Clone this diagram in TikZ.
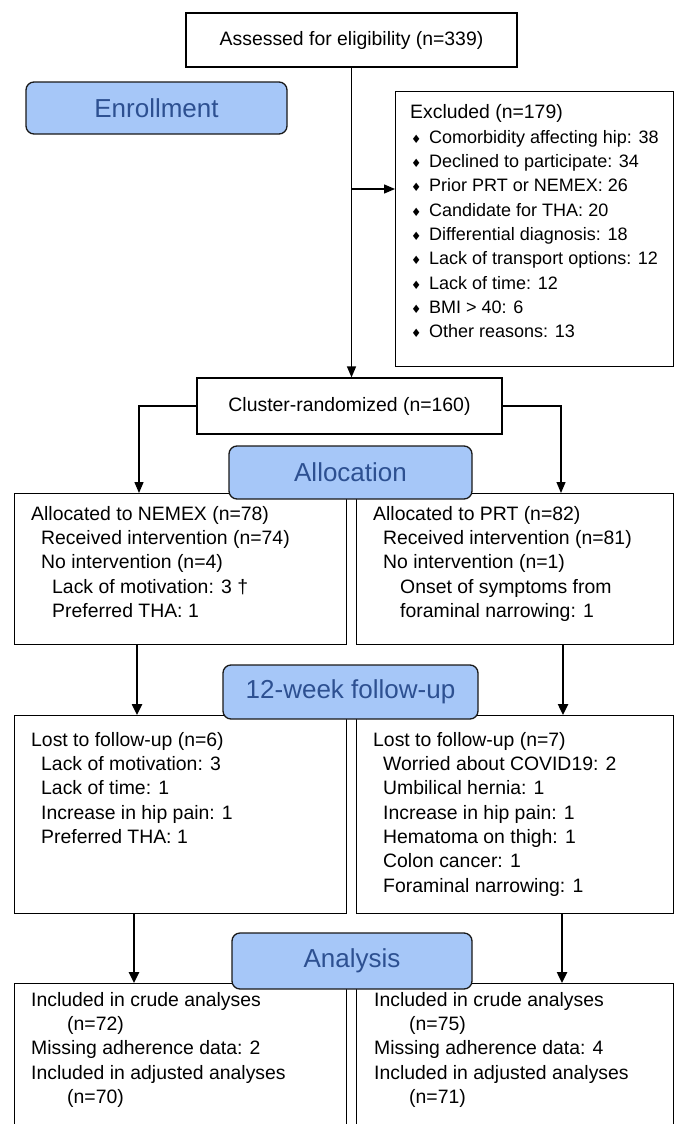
\documentclass[tikz,border=0pt]{standalone}
\usepackage{fontspec}
\setmainfont{Liberation Sans}
\newfontfamily\dejavu{DejaVu Sans}
\usetikzlibrary{arrows.meta}
\definecolor{phasefill}{RGB}{166,199,248}
\definecolor{phasetext}{RGB}{45,80,145}
\newcommand\blt{\makebox[18pt][l]{\dejavu\fontsize{11.5}{11.5}\selectfont ♦}}
\begin{document}
\begin{tikzpicture}[x=1pt,y=-1pt,
  box/.style={draw=black, line width=1.2pt, inner sep=0pt, fill=white},
  phase/.style={draw=black!90, line width=1.3pt, rounded corners=8pt, fill=phasefill, text=phasetext, font=\fontsize{26}{30}\selectfont, inner sep=0pt},
  maintxt/.style={font=\fontsize{19.4}{24.3}\selectfont, align=left, inner sep=0pt, anchor=north west},
  listtxt/.style={font=\fontsize{18}{24.3}\selectfont, align=left, inner sep=0pt, anchor=north west},
  thinarrow/.style={line width=1.3pt, -{Triangle[width=9pt,length=11pt]}},
  thickarrow/.style={line width=2.4pt, -{Triangle[width=10pt,length=11pt]}},
]
\useasboundingbox (0,0) rectangle (676,1124);
\clip (0,0) rectangle (676,1124);

% boxes
\node[box, minimum width=331pt, minimum height=54pt, font=\fontsize{19.4}{24}\selectfont] (assess) at (351.5,40) {Assessed for eligibility (n=339)};
\node[box, minimum width=278pt, minimum height=275pt, anchor=north west] (excl) at (395,91) {};
\node[box, minimum width=305pt, minimum height=56pt, font=\fontsize{19.4}{24}\selectfont] (clust) at (349.5,406) {Cluster-randomized (n=160)};
\node[box, minimum width=332pt, minimum height=151pt, anchor=north west] (nemex) at (14,493) {};
\node[box, minimum width=317pt, minimum height=151pt, anchor=north west] (prt) at (356,493) {};
\node[box, minimum width=332pt, minimum height=198pt, anchor=north west] (lostL) at (14,715) {};
\node[box, minimum width=317pt, minimum height=198pt, anchor=north west] (lostR) at (356,715) {};
\node[box, minimum width=332pt, minimum height=170pt, anchor=north west] (anL) at (14,983) {};
\node[box, minimum width=317pt, minimum height=170pt, anchor=north west] (anR) at (356,983) {};

% texts
\node[maintxt] (exclhead) at (410,104) {Excluded (n=179)};
\node[listtxt] (excllist) at (411,130) {\blt Comorbidity affecting hip: 38\\
\blt Declined to participate: 34\\
\blt Prior PRT or NEMEX: 26\\
\blt Candidate for THA: 20\\
\blt Differential diagnosis: 18\\
\blt Lack of transport options: 12\\
\blt Lack of time: 12\\
\blt BMI > 40: 6\\
\blt Other reasons: 13};

\node[maintxt] (nemextxt) at (31,506) {Allocated to NEMEX (n=78)\\
\hspace*{10pt}Received intervention (n=74)\\
\hspace*{10pt}No intervention (n=4)\\
\hspace*{21pt}Lack of motivation: 3 †\\
\hspace*{21pt}Preferred THA: 1};
\node[maintxt] (prttxt) at (373,506) {Allocated to PRT (n=82)\\
\hspace*{10pt}Received intervention (n=81)\\
\hspace*{10pt}No intervention (n=1)\\
\hspace*{27pt}Onset of symptoms from\\
\hspace*{27pt}foraminal narrowing: 1};

\node[maintxt] (lostLtxt) at (31,732) {Lost to follow-up (n=6)\\
\hspace*{10pt}Lack of motivation: 3\\
\hspace*{10pt}Lack of time: 1\\
\hspace*{10pt}Increase in hip pain: 1\\
\hspace*{10pt}Preferred THA: 1};
\node[maintxt] (lostRtxt) at (373,732) {Lost to follow-up (n=7)\\
\hspace*{10pt}Worried about COVID19: 2\\
\hspace*{10pt}Umbilical hernia: 1\\
\hspace*{10pt}Increase in hip pain: 1\\
\hspace*{10pt}Hematoma on thigh: 1\\
\hspace*{10pt}Colon cancer: 1\\
\hspace*{10pt}Foraminal narrowing: 1};

\node[maintxt] (anLtxt) at (31,992) {Included in crude analyses\\
\hspace*{36pt}(n=72)\\
Missing adherence data: 2\\
Included in adjusted analyses\\
\hspace*{36pt}(n=70)};
\node[maintxt] (anRtxt) at (374,992) {Included in crude analyses\\
\hspace*{35pt}(n=75)\\
Missing adherence data: 4\\
Included in adjusted analyses\\
\hspace*{35pt}(n=71)};

% connectors
\coordinate (brk) at (351.5,189);
\draw[thinarrow] (assess.south) -- (assess.south |- clust.north);
\draw[thinarrow] (brk) -- (brk -| excl.west);
\coordinate (inL) at (139,493);
\coordinate (inR) at (561,493);
\draw[thinarrow] (clust.west) -| (inL);
\draw[thinarrow] (clust.east) -| (inR);
\coordinate (oL1) at (137,644);
\coordinate (oR1) at (563,644);
\draw[thickarrow] (oL1) -- (oL1 |- lostL.north);
\draw[thickarrow] (oR1) -- (oR1 |- lostR.north);
\coordinate (oL2) at (134,913);
\coordinate (oR2) at (562,913);
\draw[thickarrow] (oL2) -- (oL2 |- anL.north);
\draw[thickarrow] (oR2) -- (oR2 |- anR.north);

% phase labels
\node[phase, minimum width=261pt, minimum height=52pt] (enroll) at (156.5,108) {Enrollment};
\node[phase, minimum width=243pt, minimum height=53pt] (alloc) at (350.5,472.5) {Allocation};
\node[phase, minimum width=255pt, minimum height=54pt] (fu) at (350.5,692) {12-week follow-up};
\node[phase, minimum width=240pt, minimum height=56pt] (anal) at (352,961) {Analysis};
\end{tikzpicture}
\end{document}
